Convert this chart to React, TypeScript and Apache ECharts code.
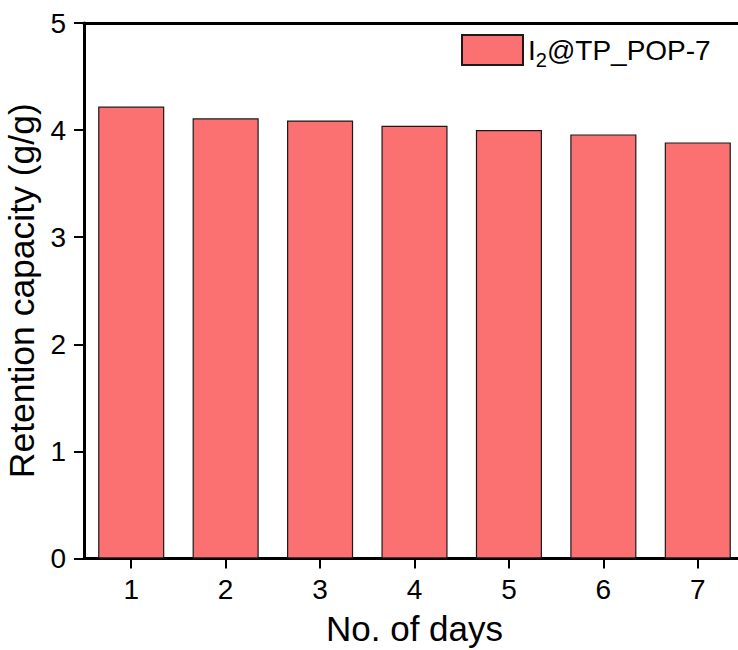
import React, { useEffect, useRef } from "react";
import * as echarts from "echarts";

const days = ["1", "2", "3", "4", "5", "6", "7"];
const retention = [4.22, 4.11, 4.09, 4.04, 4.0, 3.96, 3.885];
const yTicks = [0, 1, 2, 3, 4, 5];
const seriesName = "I2@TP_POP-7";

const FONT = "'Liberation Sans', Arial, sans-serif";

export default function App() {
  const ref = useRef<HTMLDivElement>(null);
  useEffect(() => {
    if (!ref.current) return;
    const chart = echarts.init(ref.current, undefined, { renderer: "svg" });
    chart.setOption({
      animation: false,
      backgroundColor: "#ffffff",
      textStyle: { fontFamily: FONT, color: "#000" },
      grid: {
        left: 84,
        top: 23,
        width: 661,
        height: 535.5,
        containLabel: false,
        outerBoundsMode: "none",
      },
      legend: {
        show: true,
        left: 461,
        top: 34,
        padding: 0,
        itemWidth: 61,
        itemHeight: 30,
        itemGap: 10,
        icon: "rect",
        data: [seriesName],
        formatter: () => "{a|I}{b|2}{a|@TP_POP-7}",
        textStyle: {
          padding: [0, 0, 0, 0],
          rich: {
            a: { fontSize: 28, fontFamily: FONT, color: "#000", verticalAlign: "middle" },
            b: { fontSize: 20, fontFamily: FONT, color: "#000", padding: [20, 0, 0, 0] },
          },
        },
      },
      xAxis: [
        {
          type: "category",
          data: days,
          position: "bottom",
          boundaryGap: true,
          name: "No. of days",
          nameLocation: "middle",
          nameGap: 52,
          nameTextStyle: { fontSize: 35, fontFamily: FONT, color: "#000" },
          axisLine: { show: true, lineStyle: { color: "#000", width: 3 } },
          axisTick: { show: true, alignWithLabel: true, length: 10, lineStyle: { color: "#000", width: 2 } },
          axisLabel: { fontSize: 28, fontFamily: FONT, color: "#000", margin: 17 },
          splitLine: { show: false },
        },
        {
          type: "category",
          data: days,
          position: "top",
          axisLine: { show: true, lineStyle: { color: "#000", width: 3 } },
          axisTick: { show: false },
          axisLabel: { show: false },
          splitLine: { show: false },
        },
      ],
      yAxis: {
        type: "value",
        min: yTicks[0],
        max: yTicks[yTicks.length - 1],
        interval: 1,
        name: "Retention capacity (g/g)",
        nameLocation: "middle",
        nameGap: 42,
        nameRotate: 90,
        nameTextStyle: { fontSize: 35.5, fontFamily: FONT, color: "#000" },
        axisLine: { show: true, onZero: false, lineStyle: { color: "#000", width: 3 } },
        axisTick: { show: true, length: 10, lineStyle: { color: "#000", width: 2 } },
        axisLabel: { fontSize: 28, fontFamily: FONT, color: "#000", margin: 18 },
        splitLine: { show: false },
      },
      series: [
        {
          name: seriesName,
          type: "bar",
          xAxisIndex: 0,
          data: retention,
          barWidth: "70%",
          itemStyle: { color: "#FB7070", borderColor: "#1a1a1a", borderWidth: 1.2 },
        },
      ],
    });
    return () => chart.dispose();
  }, []);
  return (
    <div
      ref={ref}
      style={{ position: "fixed", left: 0, top: 0, width: 738, height: 650, overflow: "hidden" }}
    />
  );
}
